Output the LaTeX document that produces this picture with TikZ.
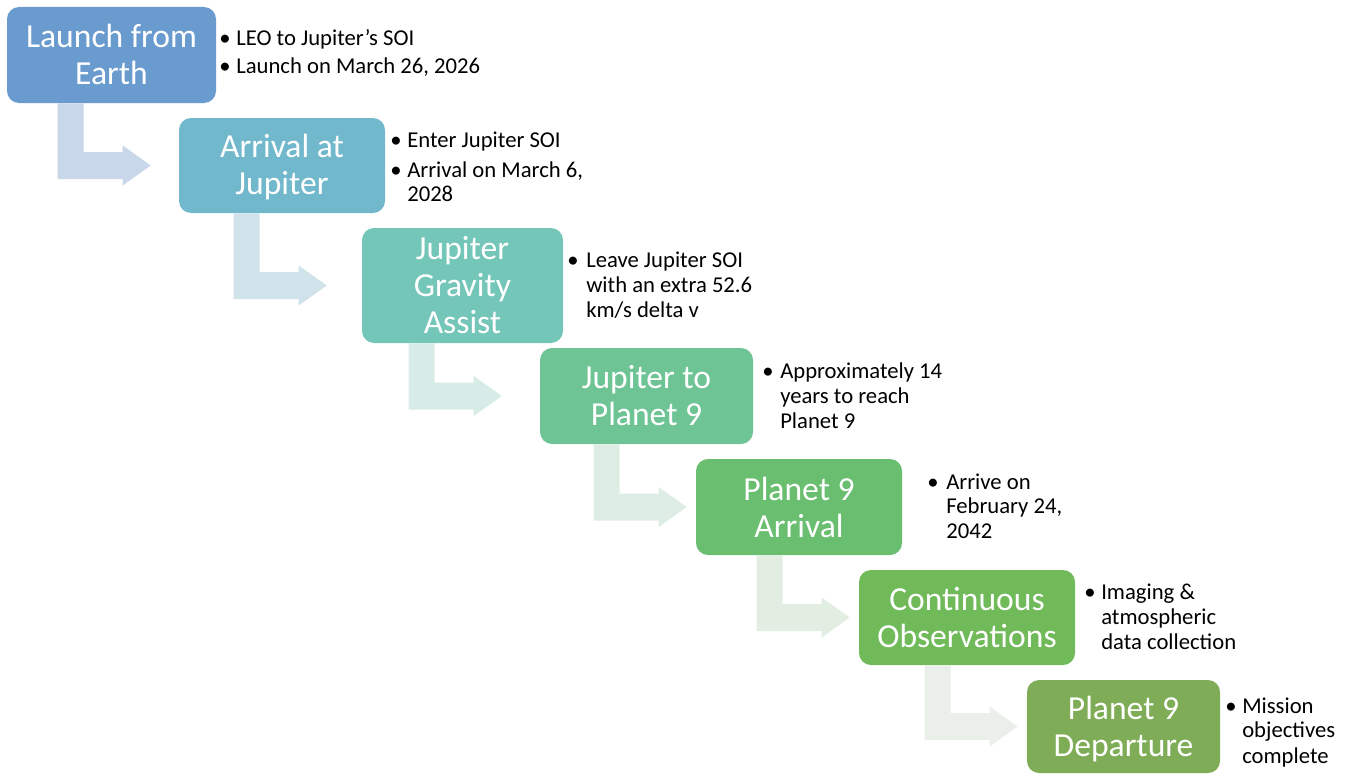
\documentclass[tikz,border=0pt]{standalone}
\usepackage{fontspec}
\setmainfont{Carlito}
\usetikzlibrary{calc}
\definecolor{c1}{HTML}{6A9BCF}
\definecolor{c2}{HTML}{71B8CC}
\definecolor{c3}{HTML}{74C6B9}
\definecolor{c4}{HTML}{6EC494}
\definecolor{c5}{HTML}{6ABE70}
\definecolor{c6}{HTML}{70BA5A}
\definecolor{c7}{HTML}{7FAD57}
\definecolor{a1}{HTML}{C8D7EA}
\definecolor{a2}{HTML}{D0E2EA}
\definecolor{a3}{HTML}{D7EBE7}
\definecolor{a4}{HTML}{DEEDE4}
\definecolor{a5}{HTML}{E2EEE2}
\definecolor{a6}{HTML}{EAF0E9}
\tikzset{
  stage/.style={fill=#1, rounded corners=9pt, text=white, align=center,
    font=\fontsize{25.2}{27.75}\selectfont, inner sep=0pt},
  note/.style={anchor=base west, inner sep=0pt, font=\fontsize{17}{18.75}\selectfont},
}
\newcommand\bentarrow[4]{%
  \coordinate (#1-s) at ($(#1.south west)+(#3,0)$);
  \coordinate (#1-c) at (#1-s |- #2.west);
  \fill[#4] (#1-s) -- ++(26,0) -- ($(#1-c)+(26,-13.5)$) -- ($(#1-c)+(65,-13.5)$)
    -- ($(#1-c)+(65,-20)$) -- ($(#1-c)+(93,0)$) -- ($(#1-c)+(65,20)$)
    -- ($(#1-c)+(65,13.5)$) -- ($(#1-c)+(0,13.5)$) -- cycle;
}
\begin{document}
\begin{tikzpicture}[x=0.75pt,y=-0.75pt]
\useasboundingbox (0,0) rectangle (1349,774);
% stages
\node[stage=c1, minimum width=156.75pt, minimum height=72pt] (b1) at (111.5,55) {Launch from\\Earth\rule[-1.5pt]{0pt}{0pt}};
\node[stage=c2, minimum width=154.5pt, minimum height=71.25pt] (b2) at (282,165.5) {\rule{0pt}{20.5pt}Arrival at\\Jupiter};
\node[stage=c3, minimum width=150.75pt, minimum height=86.25pt] (b3) at (462.5,285.5) {Jupiter\\Gravity\\Assist};
\node[stage=c4, minimum width=159.75pt, minimum height=72pt] (b4) at (646.5,396) {Jupiter to\\Planet 9};
\node[stage=c5, minimum width=154.5pt, minimum height=72pt] (b5) at (799,507) {Planet 9\\Arrival};
\node[stage=c6, minimum width=162pt, minimum height=71.25pt] (b6) at (967,617.5) {Continuous\\Observations};
\node[stage=c7, minimum width=144.75pt, minimum height=69.75pt] (b7) at (1123.5,726.5) {\rule{0pt}{22pt}Planet 9\\Departure};
% connectors
\bentarrow{b1}{b2}{51}{a1}
\bentarrow{b2}{b3}{55}{a2}
\bentarrow{b3}{b4}{47}{a3}
\bentarrow{b4}{b5}{54}{a4}
\bentarrow{b5}{b6}{61}{a5}
\bentarrow{b6}{b7}{66}{a6}
% notes
\node[note] (d1a) at (219,46) {•};
\node[note] (n1a) at (236,46) {LEO to Jupiter’s SOI};
\node[note] (d1b) at (219,74) {•};
\node[note] (n1b) at (236,74) {Launch on March 26, 2026};
\node[note] (d2a) at (390,147) {•};
\node[note] (n2a) at (407,147) {Enter Jupiter SOI};
\node[note] (d2b) at (390,177) {•};
\node[note] (n2b) at (407,177) {Arrival on March 6,};
\node[note] (n2c) at (407,201) {2028};
\node[note] (d3a) at (567,267) {•};
\node[note] (n3a) at (586,267) {Leave Jupiter SOI};
\node[note] (n3b) at (586,292) {with an extra 52.6};
\node[note] (n3c) at (586,317) {km/s delta v};
\node[note] (d4a) at (762,378) {•};
\node[note] (n4a) at (780,378) {Approximately 14};
\node[note] (n4b) at (780,403) {years to reach};
\node[note] (n4c) at (780,428) {Planet 9};
\node[note] (d5a) at (927,489) {•};
\node[note] (n5a) at (946,489) {Arrive on};
\node[note] (n5b) at (946,513) {February 24,};
\node[note] (n5c) at (946,538) {2042};
\node[note] (d6a) at (1084,599) {•};
\node[note] (n6a) at (1101,599) {Imaging \&};
\node[note] (n6b) at (1101,624) {atmospheric};
\node[note] (n6c) at (1101,649) {data collection};
\node[note] (d7a) at (1225,713) {•};
\node[note] (n7a) at (1242,713) {Mission};
\node[note] (n7b) at (1242,737) {objectives};
\node[note] (n7c) at (1242,763) {complete};
\end{tikzpicture}
\end{document}
